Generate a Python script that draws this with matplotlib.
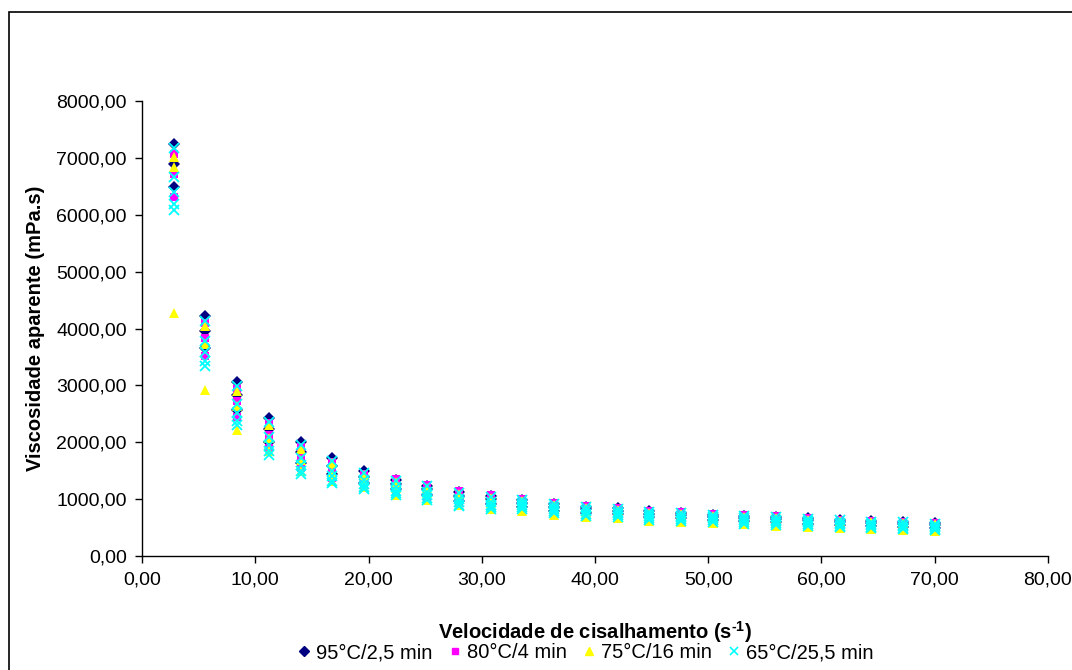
import matplotlib
matplotlib.use('Agg')
import matplotlib.pyplot as plt
from matplotlib.ticker import FuncFormatter, MultipleLocator
from matplotlib.patches import Rectangle
from matplotlib.lines import Line2D

plt.rcParams['font.family'] = ['Liberation Sans', 'DejaVu Sans']
plt.rcParams['mathtext.fontset'] = 'custom'
plt.rcParams['mathtext.rm'] = 'Liberation Sans'
plt.rcParams['mathtext.bf'] = 'Liberation Sans:bold'

# shear rate (s-1)
taxa = [2.8, 5.6, 8.4, 11.2, 14.0, 16.8, 19.6, 22.4, 25.2, 28.0, 30.8, 33.6, 36.4,
        39.2, 42.0, 44.8, 47.6, 50.4, 53.2, 56.0, 58.8, 61.6, 64.4, 67.2, 70.0]

# apparent viscosity (mPa.s), repeated runs per treatment
v95_a = [7240, 4220, 3060, 2430, 2000, 1720, 1490, 1340, 1235, 1125, 1060, 990, 920,
         870, 840, 790, 760, 730, 710, 690, 660, 630, 610, 595, 575]
v95_b = [6890, 3960, 2830, 2235, 1830, 1590, 1395, 1265, 1170, 1060, 1000, 940, 870,
         825, 795, 745, 720, 690, 670, 650, 625, 595, 575, 560, 540]
v95_c = [6485, 3650, 2565, 2005, 1635, 1435, 1290, 1170, 1080, 970, 915, 870, 800,
         755, 735, 685, 660, 635, 615, 590, 565, 545, 525, 505, 485]

v80_a = [7065, 4090, 2945, 2330, 1915, 1655, 1445, 1350, 1250, 1140, 1070, 1000, 930,
         880, 850, 800, 770, 740, 720, 700, 670, 640, 620, 605, 585]
v80_b = [6720, 3825, 2720, 2135, 1750, 1520, 1350, 1225, 1135, 1025, 960, 910, 840,
         795, 770, 720, 695, 670, 650, 625, 600, 570, 555, 535, 515]
v80_c = [6310, 3515, 2450, 1905, 1550, 1370, 1240, 1125, 1040, 930, 880, 840, 770,
         730, 705, 655, 635, 610, 590, 565, 540, 520, 505, 480, 460]

v75_a = [7010, 4045, 2910, 2300, 1890, 1630, 1430, 1295, 1200, 1090, 1020, 960, 890,
         840, 815, 765, 735, 710, 690, 665, 640, 610, 590, 575, 555]
v75_b = [6835, 3735, 2640, 2070, 1690, 1480, 1320, 1195, 1105, 995, 940, 890, 820,
         775, 750, 700, 675, 650, 630, 605, 580, 555, 540, 520, 500]
v75_c = [4270, 2920, 2215, 1840, 1495, 1325, 1210, 1070, 990, 895, 830, 800, 730,
         690, 670, 620, 600, 580, 555, 535, 515, 495, 475, 455, 435]

v65_a = [7180, 4130, 2985, 2365, 1945, 1675, 1460, 1320, 1225, 1115, 1045, 980, 910,
         860, 830, 780, 755, 725, 705, 685, 655, 625, 605, 590, 570]
v65_b = [6660, 3780, 2680, 2100, 1720, 1500, 1335, 1210, 1120, 1010, 950, 900, 830,
         785, 760, 710, 685, 660, 640, 615, 590, 565, 548, 528, 508]
v65_c = [6080, 3340, 2300, 1775, 1440, 1280, 1180, 1070, 990, 880, 830, 820, 750,
         710, 690, 640, 615, 595, 570, 550, 530, 510, 490, 470, 450]
v65_d = [6405, 3585, 2515, 1960, 1595, 1405, 1265, 1150, 1065, 955, 895, 855, 785,
         745, 720, 670, 648, 625, 605, 578, 555, 532, 515, 493, 473]
v65_e = [6195, 3430, 2375, 1840, 1495, 1325, 1210, 1100, 1015, 905, 855, 925, 855,
         808, 782, 732, 705, 680, 660, 635, 610, 583, 565, 546, 526]

fig = plt.figure(figsize=(10.72, 6.7), dpi=100)
ax = fig.add_axes([0.1325, 0.1701, 0.845, 0.6792])

fig.patches.append(Rectangle((9 / 1072, -0.1), 1.2, 1 - 12 / 670 + 0.1,
                             transform=fig.transFigure, fill=False,
                             edgecolor='black', linewidth=1.2))

for s in [v95_a, v95_b, v95_c]:
    ax.plot(taxa, s, linestyle='none', marker='D', markersize=6.5,
            color='#000080', markeredgewidth=0)
for s in [v80_a, v80_b, v80_c]:
    ax.plot(taxa, s, linestyle='none', marker='s', markersize=5.5,
            color='#FF00FF', markeredgewidth=0)
for s in [v75_a, v75_b, v75_c]:
    ax.plot(taxa, s, linestyle='none', marker='^', markersize=7.5,
            color='#FFFF00', markeredgewidth=0)
for s in [v65_a, v65_b, v65_c, v65_d, v65_e]:
    ax.plot(taxa, s, linestyle='none', marker='x', markersize=7,
            color='#00FFFF', markeredgewidth=1.3)

ax.set_xlim(0, 80)
ax.set_ylim(0, 8000)
ax.xaxis.set_major_locator(MultipleLocator(10))
ax.yaxis.set_major_locator(MultipleLocator(1000))
fmt = FuncFormatter(lambda v, p: ('%.2f' % v).replace('.', ','))
ax.xaxis.set_major_formatter(fmt)
ax.yaxis.set_major_formatter(fmt)
ax.tick_params(direction='out', length=5, width=1, labelsize=14, pad=6)

for sp in ['top', 'right']:
    ax.spines[sp].set_visible(False)
for sp in ['left', 'bottom']:
    ax.spines[sp].set_linewidth(1)

ax.set_xlabel('Velocidade de cisalhamento (s$^{\\mathbf{\u2010 1}}$)'.replace(' 1', '1'),
              fontsize=14.5, fontweight='bold', labelpad=22)
ax.set_ylabel('Viscosidade aparente (mPa.s)', fontsize=14.5, fontweight='bold',
              labelpad=8)

handles = [
    Line2D([], [], linestyle='none', marker='D', markersize=5, color='#000080'),
    Line2D([], [], linestyle='none', marker='s', markersize=5, color='#FF00FF'),
    Line2D([], [], linestyle='none', marker='^', markersize=6, color='#FFFF00'),
    Line2D([], [], linestyle='none', marker='x', markersize=6, color='#00FFFF',
           markeredgewidth=1.2),
]
labels = ['95°C/2,5 min', '80°C/4 min', '75°C/16 min', '65°C/25,5 min']
fig.legend(handles, labels, loc='center', bbox_to_anchor=(584 / 1072, 1 - 653 / 670),
           ncol=4, frameon=False, fontsize=14.5, handletextpad=0.1,
           columnspacing=0.6, handlelength=1.0, borderpad=0)

fig.savefig('out.png', dpi=100)
